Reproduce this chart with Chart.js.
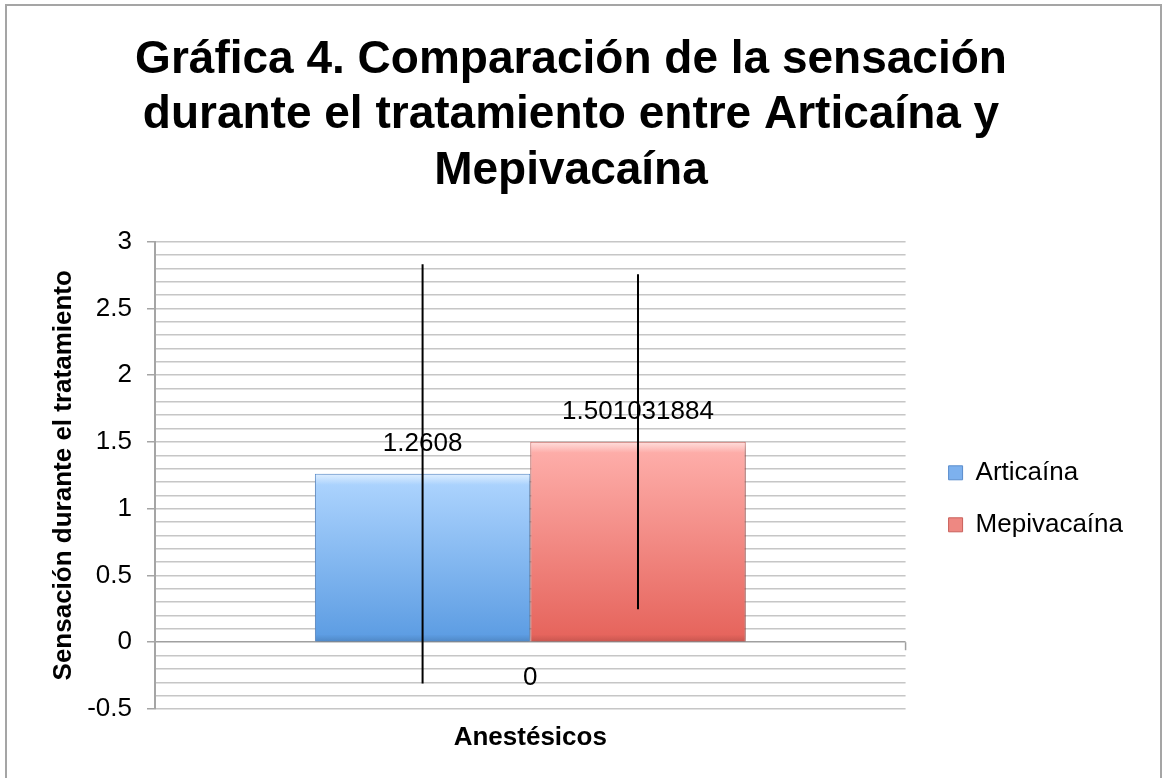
<!DOCTYPE html>
<html lang="es">
<head>
    <meta charset="UTF-8">
    <title>Gráfica 4</title>
    <script src="https://cdn.jsdelivr.net/npm/chart.js"></script>
</head>
<style>
    body {
        margin: 0;
        background: #fff;
        overflow: hidden;
    }

    .marco {
        position: relative;
        width: 1162px;
        height: 778px;
        overflow: hidden;
    }

    .marco::after {
        content: '';
        position: absolute;
        left: 5px;
        top: 4px;
        width: 1153px;
        height: 800px;
        border: 2px solid #a5a5a5;
        pointer-events: none;
    }
</style>
<body>
    <div class="marco">
        <canvas id="grafica" width="1162" height="778"></canvas>
    </div>
    <script>
    // datos
    const categorias = [''];
    const series = ['Articaína', 'Mepivacaína'];
    const valoresArticaina = [1.2608];
    const valoresMepivacaina = [1.501031884];
    const errorArticaina = [1.57];
    const errorMepivacaina = [1.255];
    const etiquetaCero = ['0'];
    const posicionCero = [-0.27];
    const ejeY = { min: -0.5, max: 3, paso: 0.1, pasoEtiqueta: 0.5 };

    const fuente = "'Liberation Sans', Arial, sans-serif";
    const gradientes = [['#b0d6ff', '#5a9be2'], ['#ffb1ad', '#e5625a']];
    const bordes = ['#5b8dcc', '#c9605a'];
    const coloresLeyenda = ['#7db1ee', '#ee8882'];

    Chart.defaults.color = '#000';
    Chart.defaults.font.family = fuente;

    function degradado(i) {
        return function (ctx) {
            const chart = ctx.chart;
            const y = chart.scales.y;
            if (!y || ctx.type !== 'data') return gradientes[i][1];
            const arriba = y.getPixelForValue(ctx.parsed.y);
            const base = y.getPixelForValue(0);
            const g = chart.ctx.createLinearGradient(0, arriba, 0, base);
            g.addColorStop(0, gradientes[i][0]);
            g.addColorStop(1, gradientes[i][1]);
            return g;
        };
    }

    function esMayor(v) {
        return Math.abs(v / ejeY.pasoEtiqueta - Math.round(v / ejeY.pasoEtiqueta)) < 1e-6;
    }

    // mueve la leyenda a donde la pone Excel
    const ajusteLeyenda = {
        id: 'ajusteLeyenda',
        afterLayout(chart) {
            const l = chart.legend;
            l.left += 17; l.right += 17;
            l.top += 23.5; l.bottom += 23.5;
        }
    };

    const sombra = {
        id: 'sombra',
        beforeDatasetsDraw(chart) {
            const ctx = chart.ctx;
            ctx.save();
            ctx.shadowColor = 'rgba(0,0,0,0.35)';
            ctx.shadowBlur = 7;
            ctx.shadowOffsetX = 2;
            ctx.shadowOffsetY = 3;
        },
        afterDatasetsDraw(chart) {
            chart.ctx.restore();
        }
    };

    const extras = {
        id: 'extras',
        afterDatasetsDraw(chart) {
            const { ctx, chartArea, scales: { x, y } } = chart;
            const errores = [errorArticaina, errorMepivacaina];
            const y0 = y.getPixelForValue(0);

            // bisel de las barras
            chart.data.datasets.forEach((ds, i) => {
                chart.getDatasetMeta(i).data.forEach(bar => {
                    const izq = bar.x - bar.width / 2;
                    let g = ctx.createLinearGradient(0, bar.y, 0, bar.y + 11);
                    g.addColorStop(0, 'rgba(255,255,255,0.6)');
                    g.addColorStop(1, 'rgba(255,255,255,0)');
                    ctx.fillStyle = g;
                    ctx.fillRect(izq + 1, bar.y + 1, bar.width - 2, 11);
                    g = ctx.createLinearGradient(0, bar.base - 7, 0, bar.base);
                    g.addColorStop(0, 'rgba(0,0,0,0)');
                    g.addColorStop(1, 'rgba(0,0,0,0.12)');
                    ctx.fillStyle = g;
                    ctx.fillRect(izq + 1, bar.base - 7, bar.width - 2, 7);
                });
            });

            // marca del eje x al final
            ctx.save();
            ctx.strokeStyle = '#a0a0a0';
            ctx.lineWidth = 1.5;
            ctx.beginPath();
            ctx.moveTo(chartArea.right, y0);
            ctx.lineTo(chartArea.right, y0 + 8);
            ctx.stroke();

            // etiquetas de valor
            ctx.font = '26px ' + fuente;
            ctx.fillStyle = '#000';
            ctx.textAlign = 'center';
            ctx.textBaseline = 'middle';
            chart.data.datasets.forEach((ds, i) => {
                chart.getDatasetMeta(i).data.forEach((bar, j) => {
                    ctx.fillText(String(ds.data[j]), bar.x, bar.y - 30);
                });
            });
            ctx.fillText(etiquetaCero[0], x.getPixelForValue(0), y.getPixelForValue(posicionCero[0]));

            // barras de error
            ctx.strokeStyle = '#000';
            ctx.lineWidth = 2;
            chart.data.datasets.forEach((ds, i) => {
                chart.getDatasetMeta(i).data.forEach((bar, j) => {
                    const v = ds.data[j];
                    const e = errores[i][j];
                    ctx.beginPath();
                    ctx.moveTo(bar.x, y.getPixelForValue(v + e));
                    ctx.lineTo(bar.x, y.getPixelForValue(v - e));
                    ctx.stroke();
                });
            });
            ctx.restore();
        }
    };

    new Chart(document.getElementById('grafica'), {
        type: 'bar',
        data: {
            labels: categorias,
            datasets: [{
                label: series[0],
                data: valoresArticaina,
                backgroundColor: degradado(0),
                borderColor: bordes[0],
                borderWidth: 1
            }, {
                label: series[1],
                data: valoresMepivacaina,
                backgroundColor: degradado(1),
                borderColor: bordes[1],
                borderWidth: 1
            }]
        },
        options: {
            responsive: false,
            animation: false,
            categoryPercentage: 0.574,
            barPercentage: 1,
            layout: { padding: { top: 0, left: 26, right: 46, bottom: 9 } },
            plugins: {
                title: {
                    display: true,
                    text: ['Gráfica 4. Comparación de la sensación',
                           'durante el tratamiento entre Articaína y',
                           'Mepivacaína'],
                    font: { size: 46, weight: 'bold', lineHeight: 1.2 },
                    padding: { top: 33, bottom: 43 }
                },
                legend: {
                    position: 'right',
                    fullSize: false,
                    labels: {
                        font: { size: 26 },
                        boxWidth: 14,
                        boxHeight: 14,
                        padding: 26,
                        generateLabels: chart => chart.data.datasets.map((ds, i) => ({
                            text: ds.label,
                            fillStyle: coloresLeyenda[i],
                            strokeStyle: bordes[i],
                            lineWidth: 1,
                            hidden: false,
                            datasetIndex: i
                        }))
                    }
                },
                tooltip: { enabled: false }
            },
            scales: {
                x: {
                    grid: { display: false },
                    border: { display: false },
                    ticks: { display: false },
                    title: {
                        display: true,
                        text: 'Anestésicos',
                        font: { size: 26, weight: 'bold' },
                        padding: { top: 0, bottom: 16 }
                    },
                    afterFit: s => { s.height = 60; }
                },
                y: {
                    min: ejeY.min,
                    max: ejeY.max,
                    ticks: {
                        stepSize: ejeY.paso,
                        maxTicksLimit: 100,
                        autoSkip: false,
                        padding: 15,
                        font: { size: 26 },
                        callback: v => esMayor(v) ? String(+v.toFixed(1)) : ''
                    },
                    grid: {
                        color: c => Math.abs(c.tick.value) < 1e-6 ? '#a0a0a0' : '#c6c6c6',
                        lineWidth: 1.5,
                        tickLength: 8,
                        tickColor: c => esMayor(c.tick.value) ? '#a5a5a5' : 'rgba(0,0,0,0)'
                    },
                    border: { color: '#a5a5a5', width: 2 },
                    title: {
                        display: true,
                        text: 'Sensación durante el tratamiento',
                        font: { size: 26, weight: 'bold' },
                        padding: { top: 22, bottom: 0 }
                    },
                    afterFit: s => { s.width = 129; }
                }
            }
        },
        plugins: [ajusteLeyenda, sombra, extras]
    });
    </script>
</body>
</html>
